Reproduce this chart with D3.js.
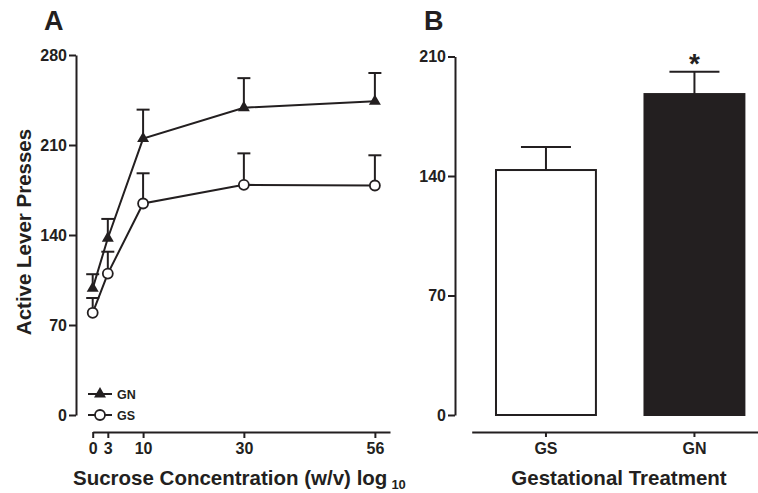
<!DOCTYPE html>
<html>
<head>
<meta charset="utf-8">
<script src="https://cdn.jsdelivr.net/npm/d3@7"></script>
<style>
  body { margin: 0; background: #fff; }
  text { font-family: "Liberation Sans", Arial, sans-serif; font-weight: bold; fill: #231f20; }
</style>
</head>
<body>
<script>
window.onload = main;

// Panel A: sucrose concentration series
const concentrations = [0, 3, 10, 30, 56];
const gnMeans = [98.5, 137.5, 215, 239, 244];
const gnErrors = [11, 15, 22.5, 23, 22];
const gsMeans = [79.5, 110, 164.5, 179, 178.5];
const gsErrors = [11.5, 17, 23.5, 24.5, 23.5];
const yTicksA = [0, 70, 140, 210, 280];

// Panel B: gestational treatment bars
const groups = ["GS", "GN"];
const groupMeans = [143.5, 188];
const groupErrors = [13.5, 13];
const yTicksB = [0, 70, 140, 210];

const ink = "#231f20";
const svgWidth = 758;
const svgHeight = 493;

function main() {
    const svg = d3.select("body")
        .append("svg")
        .attr("width", svgWidth)
        .attr("height", svgHeight);

    render_panel_a(svg);
    render_panel_b(svg);
}

function style_axis(g, size) {
    g.selectAll("path, line")
        .attr("stroke", ink)
        .attr("stroke-width", 2);
    g.selectAll("text")
        .attr("fill", ink)
        .style("font-size", size + "px")
        .style("font-weight", "bold")
        .style("font-family", '"Liberation Sans", Arial, sans-serif');
}

function render_panel_a(svg) {
    const x = d3.scaleLinear().domain([0, 59]).range([92.7, 390]);
    const y = d3.scaleLinear().domain([0, 280]).range([415, 55]);

    const gy = svg.append("g")
        .attr("transform", "translate(76,0)")
        .call(d3.axisLeft(y).tickValues(yTicksA).tickSize(7).tickSizeOuter(0).tickPadding(2));
    style_axis(gy, 16);

    const gx = svg.append("g")
        .attr("transform", "translate(0,432)")
        .call(d3.axisBottom(x).tickValues(concentrations).tickSize(6).tickSizeOuter(0).tickPadding(5));
    style_axis(gx, 16);

    const line = d3.line()
        .x((d, i) => x(concentrations[i]))
        .y(d => y(d));

    const series = [
        {name: "GN", means: gnMeans, errors: gnErrors},
        {name: "GS", means: gsMeans, errors: gsErrors}
    ];

    series.forEach(s => {
        svg.append("path")
            .datum(s.means)
            .attr("d", line)
            .attr("fill", "none")
            .attr("stroke", ink)
            .attr("stroke-width", 2);

        const err = svg.append("g");
        s.means.forEach((m, i) => {
            const cx = x(concentrations[i]);
            err.append("line")
                .attr("x1", cx).attr("x2", cx)
                .attr("y1", y(m)).attr("y2", y(m + s.errors[i]))
                .attr("stroke", ink).attr("stroke-width", 2);
            err.append("line")
                .attr("x1", cx - 6.5).attr("x2", cx + 6.5)
                .attr("y1", y(m + s.errors[i])).attr("y2", y(m + s.errors[i]))
                .attr("stroke", ink).attr("stroke-width", 2);
        });
    });

    // markers
    svg.append("g").selectAll("path")
        .data(gnMeans)
        .join("path")
        .attr("d", d3.symbol(d3.symbolTriangle, 62))
        .attr("transform", (d, i) => `translate(${x(concentrations[i])},${y(d)})`)
        .attr("fill", ink);

    svg.append("g").selectAll("circle")
        .data(gsMeans)
        .join("circle")
        .attr("cx", (d, i) => x(concentrations[i]))
        .attr("cy", d => y(d))
        .attr("r", 5)
        .attr("fill", "#fff")
        .attr("stroke", ink)
        .attr("stroke-width", 1.8);

    // legend
    const legend = svg.append("g");
    legend.append("line").attr("x1", 88).attr("x2", 112).attr("y1", 394).attr("y2", 394)
        .attr("stroke", ink).attr("stroke-width", 2);
    legend.append("path").attr("d", d3.symbol(d3.symbolTriangle, 62))
        .attr("transform", "translate(100,394)").attr("fill", ink);
    legend.append("text").attr("x", 117).attr("y", 398.5).style("font-size", "12.5px").text("GN");
    legend.append("line").attr("x1", 88).attr("x2", 112).attr("y1", 415).attr("y2", 415)
        .attr("stroke", ink).attr("stroke-width", 2);
    legend.append("circle").attr("cx", 100).attr("cy", 415).attr("r", 5)
        .attr("fill", "#fff").attr("stroke", ink).attr("stroke-width", 1.8);
    legend.append("text").attr("x", 117).attr("y", 419.5).style("font-size", "12.5px").text("GS");

    // titles
    svg.append("text").attr("x", 44).attr("y", 30).style("font-size", "27px").text("A");

    svg.append("text")
        .attr("transform", "translate(31,232) rotate(-90)")
        .attr("text-anchor", "middle")
        .style("font-size", "20.5px")
        .text("Active Lever Presses");

    const xt = svg.append("text").attr("x", 73).attr("y", 485).style("font-size", "20.5px");
    xt.append("tspan").text("Sucrose Concentration (w/v) log");
    xt.append("tspan").attr("dx", 4).attr("dy", 4).style("font-size", "13px").text("10");
}

function render_panel_b(svg) {
    const x = d3.scaleBand()
        .domain(groups)
        .range([471.7, 768.7])
        .paddingInner(0.327)
        .paddingOuter(0.1636);
    const y = d3.scaleLinear().domain([0, 210]).range([415, 56.5]);

    const gy = svg.append("g")
        .attr("transform", "translate(455,0)")
        .call(d3.axisLeft(y).tickValues(yTicksB).tickSize(7).tickSizeOuter(0).tickPadding(2));
    style_axis(gy, 16);

    const gx = svg.append("g")
        .attr("transform", "translate(0,432)")
        .call(d3.axisBottom(x).tickSize(5).tickSizeOuter(0).tickPadding(6));
    style_axis(gx, 16);

    const fills = {GS: "#fff", GN: ink};

    groups.forEach((g, i) => {
        const bx = x(g);
        const cx = bx + x.bandwidth() / 2;
        const top = y(groupMeans[i] + groupErrors[i]);
        svg.append("line")
            .attr("x1", cx).attr("x2", cx)
            .attr("y1", y(groupMeans[i])).attr("y2", top)
            .attr("stroke", ink).attr("stroke-width", 2);
        svg.append("line")
            .attr("x1", cx - 25).attr("x2", cx + 25)
            .attr("y1", top).attr("y2", top)
            .attr("stroke", ink).attr("stroke-width", 2);
        svg.append("rect")
            .attr("x", bx)
            .attr("y", y(groupMeans[i]))
            .attr("width", x.bandwidth())
            .attr("height", y(0) - y(groupMeans[i]))
            .attr("fill", fills[g])
            .attr("stroke", ink)
            .attr("stroke-width", 2);
    });

    // significance star on GN
    svg.append("text")
        .attr("x", x("GN") + x.bandwidth() / 2)
        .attr("y", 73)
        .attr("text-anchor", "middle")
        .style("font-size", "28px")
        .text("*");

    svg.append("text").attr("x", 424).attr("y", 30).style("font-size", "27px").text("B");

    svg.append("text")
        .attr("x", 619).attr("y", 485)
        .attr("text-anchor", "middle")
        .style("font-size", "20.5px")
        .text("Gestational Treatment");
}
</script>
</body>
</html>
